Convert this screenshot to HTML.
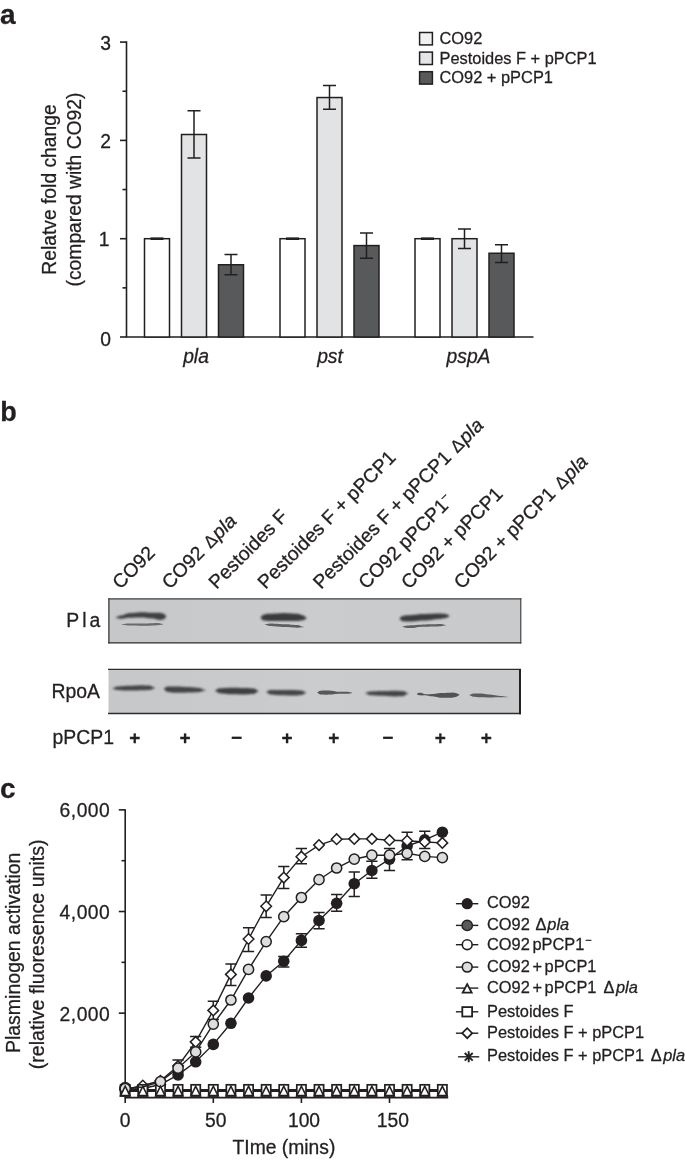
<!DOCTYPE html>
<html lang="en"><head><meta charset="utf-8"><title>Figure</title>
<style>html,body{margin:0;padding:0;background:#fff}svg{display:block}text{font-family:"Liberation Sans", sans-serif;fill:#231f20;stroke:#231f20;stroke-width:0.28px}</style></head><body>
<svg width="685" height="1160" viewBox="0 0 685 1160">
<defs><filter id="b1" x="-20%" y="-100%" width="140%" height="300%"><feGaussianBlur stdDeviation="0.9"/></filter><filter id="b2" x="-20%" y="-100%" width="140%" height="300%"><feGaussianBlur stdDeviation="0.6"/></filter><linearGradient id="bg1" x1="0" x2="1" y1="0" y2="0"><stop offset="0" stop-color="#c6c7c9"/><stop offset="0.5" stop-color="#cbccce"/><stop offset="1" stop-color="#c9cacc"/></linearGradient></defs>
<rect width="685" height="1160" fill="#fff"/>
<text x="0" y="24" font-size="28" font-weight="bold" stroke="none">a</text>
<text x="0.2" y="421" font-size="27" font-weight="bold" stroke="none">b</text>
<text x="0" y="798" font-size="28" font-weight="bold" stroke="none">c</text>
<g stroke="#231f20" stroke-width="1.6" fill="none">
<path d="M126.5 41.30V337.0M125.7 337.0H533.5"/>
<path d="M120 337.00H126.5"/>
<path d="M120 238.70H126.5"/>
<path d="M120 140.40H126.5"/>
<path d="M120 42.10H126.5"/>
<path d="M122.5 287.85H126.5"/>
<path d="M122.5 189.55H126.5"/>
<path d="M122.5 91.25H126.5"/>
</g>
<text x="111" y="345.50" font-size="19.3" text-anchor="end">0</text>
<text x="109.5" y="246.30" font-size="19.3" text-anchor="end">1</text>
<text x="111" y="147.60" font-size="19.3" text-anchor="end">2</text>
<text x="111" y="49.50" font-size="19.3" text-anchor="end">3</text>
<rect x="144.5" y="238.70" width="25" height="98.30" fill="#fff" stroke="#231f20" stroke-width="1.5"/>
<path d="M150.5 238.70H163.5" stroke="#231f20" stroke-width="2.6"/>
<rect x="181.5" y="134.50" width="25" height="202.50" fill="#e2e3e4" stroke="#231f20" stroke-width="1.5"/>
<path d="M194.0 110.8V158.0M187.5 110.8H200.5M187.5 158.0H200.5" stroke="#231f20" stroke-width="1.5" fill="none"/>
<rect x="218.5" y="264.75" width="25" height="72.25" fill="#58595b" stroke="#231f20" stroke-width="1.5"/>
<path d="M231.0 254.5V274.8M224.5 254.5H237.5M224.5 274.8H237.5" stroke="#231f20" stroke-width="1.5" fill="none"/>
<rect x="280.0" y="238.70" width="25" height="98.30" fill="#fff" stroke="#231f20" stroke-width="1.5"/>
<path d="M286.0 238.70H299.0" stroke="#231f20" stroke-width="2.6"/>
<rect x="317.0" y="97.54" width="25" height="239.46" fill="#e2e3e4" stroke="#231f20" stroke-width="1.5"/>
<path d="M329.5 85.4V109.2M323.0 85.4H336.0M323.0 109.2H336.0" stroke="#231f20" stroke-width="1.5" fill="none"/>
<rect x="354.0" y="245.58" width="25" height="91.42" fill="#58595b" stroke="#231f20" stroke-width="1.5"/>
<path d="M366.5 233.1V258.2M360.0 233.1H373.0M360.0 258.2H373.0" stroke="#231f20" stroke-width="1.5" fill="none"/>
<rect x="415.0" y="238.70" width="25" height="98.30" fill="#fff" stroke="#231f20" stroke-width="1.5"/>
<path d="M421.0 238.70H434.0" stroke="#231f20" stroke-width="2.6"/>
<rect x="452.0" y="238.70" width="25" height="98.30" fill="#e2e3e4" stroke="#231f20" stroke-width="1.5"/>
<path d="M464.5 229.0V248.6M458.0 229.0H471.0M458.0 248.6H471.0" stroke="#231f20" stroke-width="1.5" fill="none"/>
<rect x="489.0" y="253.25" width="25" height="83.75" fill="#58595b" stroke="#231f20" stroke-width="1.5"/>
<path d="M501.5 244.7V262.5M495.0 244.7H508.0M495.0 262.5H508.0" stroke="#231f20" stroke-width="1.5" fill="none"/>
<text x="196" y="362.5" font-size="19.3" font-style="italic" text-anchor="middle">pla</text>
<text x="330" y="362.5" font-size="19.3" font-style="italic" text-anchor="middle">pst</text>
<text x="468.5" y="362.5" font-size="19.3" font-style="italic" text-anchor="middle">pspA</text>
<text transform="translate(56 189.5) rotate(-90)" font-size="19.3" text-anchor="middle">Relatve fold change</text>
<text transform="translate(80.7 189.5) rotate(-90)" font-size="19.3" text-anchor="middle">(compared with CO92)</text>
<rect x="419.6" y="32.5" width="12.8" height="12.4" fill="#f1f1f2" stroke="#231f20" stroke-width="1.5"/>
<text x="439.5" y="44.1" font-size="16.4">CO92</text>
<rect x="419.6" y="52.1" width="12.8" height="12.4" fill="#e4e5e6" stroke="#231f20" stroke-width="1.5"/>
<text x="439.5" y="63.7" font-size="16.4">Pestoides F + pPCP1</text>
<rect x="419.6" y="71.7" width="12.8" height="12.4" fill="#58595b" stroke="#231f20" stroke-width="1.5"/>
<text x="439.5" y="83.3" font-size="16.4">CO92 + pPCP1</text>
<text transform="translate(120.3 590) rotate(-45)" font-size="19.4">CO92</text>
<text transform="translate(169.7 590) rotate(-45)" font-size="19.4">CO92 <tspan font-size="17.5" dx="1.5">Δ</tspan><tspan dx="1" font-style="italic">pla</tspan></text>
<text transform="translate(216.5 590) rotate(-45)" font-size="19.4">Pestoides F</text>
<text transform="translate(265.5 590) rotate(-45)" font-size="19.4">Pestoides F + pPCP1</text>
<text transform="translate(320.9 590) rotate(-45)" font-size="19.4">Pestoides F + pPCP1 <tspan font-size="17.5" dx="1.5">Δ</tspan><tspan dx="1" font-style="italic">pla</tspan></text>
<text transform="translate(366.2 590) rotate(-45)" font-size="19.4">CO92 pPCP1<tspan font-size="12" dy="-7">−</tspan></text>
<text transform="translate(409.1 590) rotate(-45)" font-size="19.4">CO92 + pPCP1</text>
<text transform="translate(461.8 590) rotate(-45)" font-size="19.4">CO92 + pPCP1 <tspan font-size="17.5" dx="1.5">Δ</tspan><tspan dx="1" font-style="italic">pla</tspan></text>
<rect x="108.5" y="599" width="412.5" height="44" fill="url(#bg1)"/>
<rect x="108.5" y="669.5" width="412" height="44.5" fill="url(#bg1)"/>
<path d="M108.9 598.3V643.4" stroke="#2e2e30" stroke-width="1.2"/>
<path d="M108.3 598.9H521.3" stroke="#3c3c3e" stroke-width="1.2"/>
<path d="M108.3 642.9H521.3" stroke="#2e2e30" stroke-width="1.4"/>
<path d="M520.8 598.3V643.5" stroke="#3a3a3c" stroke-width="1.1"/>
<path d="M108 669.4H521" stroke="#2e2e30" stroke-width="1.1"/>
<path d="M108 713.5H521" stroke="#2e2e30" stroke-width="1.4"/>
<path d="M520.0 668.9V714.2" stroke="#222" stroke-width="2.0"/>
<path d="M116.0 617.30L118.0 616.45L120.0 615.60L121.7 615.43L123.3 614.98L125.0 614.35L126.7 613.73L128.3 613.27L130.0 613.10L131.5 613.07L133.0 612.97L134.5 612.82L136.0 612.65L137.5 612.48L139.0 612.33L140.5 612.23L142.0 612.20L143.7 612.24L145.3 612.35L147.0 612.50L148.7 612.65L150.3 612.76L152.0 612.80L153.6 612.80L155.2 612.80L156.8 612.80L158.4 612.80L160.0 612.80L162.0 613.33L164.0 613.85L165.1 615.08L166.2 616.30L166.2 616.90L165.1 618.12L164.0 619.35L162.0 619.67L160.0 620.00L158.4 619.85L156.8 619.45L155.2 618.95L153.6 618.55L152.0 618.40L150.3 618.33L148.7 618.15L147.0 617.90L145.3 617.65L143.7 617.47L142.0 617.40L140.5 617.41L139.0 617.44L137.5 617.49L136.0 617.55L134.5 617.61L133.0 617.66L131.5 617.69L130.0 617.70L128.3 617.77L126.7 617.98L125.0 618.25L123.3 618.52L121.7 618.73L120.0 618.80L118.0 618.35L116.0 617.90Z" fill="#404042" filter="url(#b1)"/>
<path d="M121.5 624.40L123.1 624.25L124.8 623.90L126.4 623.55L128.0 623.40L129.5 623.40L131.1 623.40L132.6 623.41L134.2 623.41L135.7 623.42L137.3 623.43L138.8 623.44L140.4 623.44L141.9 623.45L143.5 623.45L145.0 623.45L146.6 623.43L148.2 623.39L149.9 623.33L151.5 623.25L153.1 623.17L154.8 623.11L156.4 623.07L158.0 623.05L159.7 623.29L161.3 623.76L163.0 624.00L163.0 624.40L161.3 624.64L159.7 625.11L158.0 625.35L156.4 625.37L154.8 625.41L153.1 625.47L151.5 625.55L149.9 625.63L148.2 625.69L146.6 625.73L145.0 625.75L143.5 625.74L141.9 625.72L140.4 625.69L138.8 625.65L137.3 625.60L135.7 625.55L134.2 625.50L132.6 625.46L131.1 625.43L129.5 625.41L128.0 625.40L126.4 625.31L124.8 625.10L123.1 624.89L121.5 624.80Z" fill="#6a6a6c" filter="url(#b2)"/>
<path d="M260.6 617.20L261.8 616.00L263.0 614.80L264.7 614.55L266.3 614.05L268.0 613.80L269.5 613.79L271.1 613.74L272.6 613.68L274.2 613.60L275.7 613.50L277.3 613.40L278.8 613.30L280.4 613.22L281.9 613.16L283.5 613.11L285.0 613.10L286.6 613.13L288.2 613.20L289.9 613.32L291.5 613.45L293.1 613.58L294.8 613.70L296.4 613.77L298.0 613.80L299.7 614.17L301.3 614.92L303.0 615.30L304.8 616.60L306.6 617.90L306.6 618.50L304.8 619.40L303.0 620.30L301.3 620.47L299.7 620.83L298.0 621.00L296.4 621.00L294.8 620.99L293.1 620.97L291.5 620.95L289.9 620.93L288.2 620.91L286.6 620.90L285.0 620.90L283.5 620.90L281.9 620.91L280.4 620.92L278.8 620.93L277.3 620.94L275.7 620.96L274.2 620.97L272.6 620.98L271.1 620.99L269.5 621.00L268.0 621.00L266.3 620.85L264.7 620.55L263.0 620.40L261.8 619.20L260.6 618.00Z" fill="#3a3a3c" filter="url(#b1)"/>
<path d="M264.8 624.20L266.5 624.02L268.3 623.67L270.0 623.50L271.5 623.52L273.0 623.57L274.5 623.64L276.0 623.74L277.5 623.85L279.0 623.96L280.5 624.06L282.0 624.13L283.5 624.18L285.0 624.20L286.6 624.23L288.2 624.33L289.9 624.48L291.5 624.65L293.1 624.82L294.8 624.97L296.4 625.07L298.0 625.10L299.9 625.52L301.7 626.38L303.6 626.80L303.6 627.20L301.7 627.33L299.9 627.57L298.0 627.70L296.4 627.67L294.8 627.60L293.1 627.48L291.5 627.35L289.9 627.22L288.2 627.10L286.6 627.03L285.0 627.00L283.5 626.98L282.0 626.91L280.5 626.81L279.0 626.69L277.5 626.55L276.0 626.41L274.5 626.29L273.0 626.19L271.5 626.12L270.0 626.10L268.3 625.72L266.5 624.98L264.8 624.60Z" fill="#5e5e60" filter="url(#b2)"/>
<path d="M399.6 618.20L400.8 617.10L402.0 616.00L403.5 615.88L405.0 615.60L406.5 615.32L408.0 615.20L409.5 615.17L411.1 615.10L412.6 614.98L414.2 614.82L415.7 614.64L417.3 614.46L418.8 614.28L420.4 614.12L421.9 614.00L423.5 613.93L425.0 613.90L426.5 613.89L428.0 613.85L429.5 613.80L431.0 613.73L432.5 613.65L434.0 613.57L435.5 613.50L437.0 613.45L438.5 613.41L440.0 613.40L441.5 613.47L443.0 613.65L444.5 613.83L446.0 613.90L447.8 614.80L449.5 615.70L449.5 616.30L447.8 617.20L446.0 618.10L444.5 618.23L443.0 618.55L441.5 618.87L440.0 619.00L438.5 619.04L437.0 619.14L435.5 619.31L434.0 619.52L432.5 619.75L431.0 619.98L429.5 620.19L428.0 620.36L426.5 620.46L425.0 620.50L423.5 620.52L421.9 620.59L420.4 620.69L418.8 620.82L417.3 620.97L415.7 621.13L414.2 621.28L412.6 621.41L411.1 621.51L409.5 621.58L408.0 621.60L406.5 621.54L405.0 621.40L403.5 621.26L402.0 621.20L400.8 620.10L399.6 619.00Z" fill="#3c3c3e" filter="url(#b1)"/>
<path d="M402.6 626.60L404.8 626.05L407.0 625.50L408.8 625.46L410.5 625.35L412.2 625.24L414.0 625.20L416.0 624.95L418.0 624.70L419.6 624.68L421.1 624.64L422.7 624.57L424.2 624.49L425.8 624.41L427.3 624.33L428.9 624.26L430.4 624.22L432.0 624.20L433.5 624.19L435.0 624.18L436.5 624.15L438.0 624.12L439.5 624.11L441.0 624.10L442.6 624.33L444.2 624.78L445.8 625.00L445.8 625.40L444.2 625.62L442.6 626.08L441.0 626.30L439.5 626.32L438.0 626.38L436.5 626.45L435.0 626.52L433.5 626.58L432.0 626.60L430.4 626.61L428.9 626.64L427.3 626.67L425.8 626.72L424.2 626.78L422.7 626.82L421.1 626.86L419.6 626.89L418.0 626.90L416.0 627.45L414.0 628.00L412.2 628.01L410.5 628.05L408.8 628.09L407.0 628.10L404.8 627.55L402.6 627.00Z" fill="#606062" filter="url(#b2)"/>
<path d="M112.5 688.15L114.0 687.74L115.5 686.91L117.0 686.50L118.6 686.47L120.1 686.37L121.7 686.23L123.3 686.07L124.9 685.93L126.4 685.83L128.0 685.80L129.6 685.78L131.1 685.74L132.7 685.68L134.2 685.59L135.8 685.51L137.3 685.42L138.9 685.36L140.4 685.32L142.0 685.30L143.6 685.33L145.2 685.40L146.8 685.50L148.4 685.57L150.0 685.60L151.7 686.14L153.3 687.21L155.0 687.75L155.0 688.25L153.3 688.69L151.7 689.56L150.0 690.00L148.4 690.03L146.8 690.10L145.2 690.20L143.6 690.27L142.0 690.30L140.4 690.31L138.9 690.34L137.3 690.38L135.8 690.42L134.2 690.48L132.7 690.52L131.1 690.56L129.6 690.59L128.0 690.60L126.4 690.58L124.9 690.51L123.3 690.41L121.7 690.29L120.1 690.19L118.6 690.12L117.0 690.10L115.5 689.74L114.0 689.01L112.5 688.65Z" fill="#454547" filter="url(#b1)"/>
<path d="M163.8 688.70L165.4 687.60L167.0 686.50L168.6 686.49L170.2 686.47L171.8 686.43L173.4 686.41L175.0 686.40L176.6 686.42L178.2 686.49L179.9 686.59L181.5 686.70L183.1 686.81L184.8 686.91L186.4 686.98L188.0 687.00L189.7 687.05L191.3 687.17L193.0 687.35L194.7 687.52L196.3 687.65L198.0 687.70L199.6 687.91L201.1 688.48L202.7 689.17L204.2 689.74L205.8 689.95L205.8 690.45L204.2 690.63L202.7 691.09L201.1 691.66L199.6 692.12L198.0 692.30L196.3 692.32L194.7 692.37L193.0 692.45L191.3 692.52L189.7 692.58L188.0 692.60L186.4 692.61L184.8 692.63L183.1 692.66L181.5 692.70L179.9 692.74L178.2 692.77L176.6 692.79L175.0 692.80L173.4 692.71L171.8 692.49L170.2 692.21L168.6 691.99L167.0 691.90L165.4 690.60L163.8 689.30Z" fill="#454547" filter="url(#b1)"/>
<path d="M215.2 690.30L217.1 689.30L219.0 688.30L220.6 688.28L222.1 688.21L223.7 688.11L225.3 687.99L226.9 687.89L228.4 687.82L230.0 687.80L231.5 687.80L233.0 687.81L234.5 687.82L236.0 687.83L237.5 687.85L239.0 687.87L240.5 687.88L242.0 687.89L243.5 687.90L245.0 687.90L246.5 687.94L248.0 688.05L249.5 688.20L251.0 688.35L252.5 688.46L254.0 688.50L255.5 689.05L257.0 690.15L258.5 690.70L258.5 691.30L257.0 691.95L255.5 693.25L254.0 693.90L252.5 693.94L251.0 694.05L249.5 694.20L248.0 694.35L246.5 694.46L245.0 694.50L243.5 694.49L242.0 694.47L240.5 694.44L239.0 694.40L237.5 694.35L236.0 694.30L234.5 694.26L233.0 694.23L231.5 694.21L230.0 694.20L228.4 694.16L226.9 694.03L225.3 693.85L223.7 693.65L222.1 693.47L220.6 693.34L219.0 693.30L217.1 692.10L215.2 690.90Z" fill="#404042" filter="url(#b1)"/>
<path d="M266.4 691.70L268.2 690.80L270.0 689.90L271.7 689.90L273.3 689.90L275.0 689.90L276.7 689.90L278.3 689.90L280.0 689.90L281.5 689.90L283.0 689.92L284.5 689.94L286.0 689.97L287.5 690.00L289.0 690.03L290.5 690.06L292.0 690.08L293.5 690.10L295.0 690.10L296.8 690.17L298.5 690.35L300.2 690.53L302.0 690.60L304.0 691.48L306.0 692.35L306.0 692.85L304.0 693.93L302.0 695.00L300.2 695.07L298.5 695.25L296.8 695.43L295.0 695.50L293.5 695.50L292.0 695.48L290.5 695.46L289.0 695.43L287.5 695.40L286.0 695.37L284.5 695.34L283.0 695.32L281.5 695.30L280.0 695.30L278.3 695.25L276.7 695.10L275.0 694.90L273.3 694.70L271.7 694.55L270.0 694.50L268.2 693.40L266.4 692.30Z" fill="#454547" filter="url(#b1)"/>
<path d="M317.3 692.35L318.6 691.58L320.0 690.80L321.5 690.74L323.0 690.60L324.5 690.46L326.0 690.40L327.5 690.46L329.0 690.60L330.5 690.74L332.0 690.80L333.5 690.95L335.0 691.30L336.5 691.65L338.0 691.80L339.7 691.80L341.3 691.80L343.0 691.80L344.7 691.80L346.3 691.80L348.0 691.80L350.0 692.20L352.0 692.60L352.0 693.00L350.0 693.40L348.0 693.80L346.3 693.80L344.7 693.80L343.0 693.80L341.3 693.80L339.7 693.80L338.0 693.80L336.5 693.89L335.0 694.10L333.5 694.31L332.0 694.40L330.5 694.46L329.0 694.60L327.5 694.74L326.0 694.80L324.5 694.74L323.0 694.60L321.5 694.46L320.0 694.40L318.6 693.62L317.3 692.85Z" fill="#58585a" filter="url(#b2)"/>
<path d="M365.4 692.95L366.9 692.56L368.5 691.79L370.0 691.40L371.7 691.38L373.3 691.32L375.0 691.25L376.7 691.17L378.3 691.12L380.0 691.10L381.5 691.09L383.0 691.07L384.5 691.04L386.0 691.00L387.5 690.95L389.0 690.90L390.5 690.86L392.0 690.83L393.5 690.81L395.0 690.80L396.6 690.82L398.2 690.87L399.8 690.93L401.4 690.98L403.0 691.00L404.7 691.54L406.5 692.61L408.2 693.15L408.2 693.65L406.5 694.29L404.7 695.56L403.0 696.20L401.4 696.22L399.8 696.27L398.2 696.33L396.6 696.38L395.0 696.40L393.5 696.38L392.0 696.33L390.5 696.26L389.0 696.16L387.5 696.05L386.0 695.94L384.5 695.84L383.0 695.77L381.5 695.72L380.0 695.70L378.3 695.67L376.7 695.58L375.0 695.45L373.3 695.32L371.7 695.23L370.0 695.20L368.5 694.76L366.9 693.89L365.4 693.45Z" fill="#454547" filter="url(#b1)"/>
<path d="M416.8 693.75L417.9 693.23L419.0 692.70L420.5 692.85L422.0 693.00L423.5 693.65L425.0 694.30L426.8 694.27L428.5 694.20L430.2 694.13L432.0 694.10L433.7 694.03L435.3 693.83L437.0 693.55L438.7 693.27L440.3 693.07L442.0 693.00L443.7 692.97L445.3 692.90L447.0 692.80L448.7 692.70L450.3 692.63L452.0 692.60L454.0 692.85L456.0 693.10L457.7 693.82L459.4 694.55L459.4 695.05L457.7 695.98L456.0 696.90L454.0 697.35L452.0 697.80L450.3 697.80L448.7 697.80L447.0 697.80L445.3 697.80L443.7 697.80L442.0 697.80L440.3 697.70L438.7 697.43L437.0 697.05L435.3 696.67L433.7 696.40L432.0 696.30L430.2 696.15L428.5 695.80L426.8 695.45L425.0 695.30L423.5 695.35L422.0 695.40L420.5 695.35L419.0 695.30L417.9 694.77L416.8 694.25Z" fill="#525254" filter="url(#b2)"/>
<path d="M469.6 694.75L471.3 694.18L473.0 693.60L474.8 693.59L476.5 693.55L478.2 693.51L480.0 693.50L481.7 693.57L483.3 693.77L485.0 694.05L486.7 694.33L488.3 694.53L490.0 694.60L491.7 694.69L493.3 694.92L495.0 695.25L496.7 695.58L498.3 695.81L500.0 695.90L501.5 695.99L503.0 696.23L504.6 696.52L506.1 696.76L507.6 696.85L507.6 697.15L506.1 697.16L504.6 697.20L503.0 697.25L501.5 697.29L500.0 697.30L498.3 697.31L496.7 697.33L495.0 697.35L493.3 697.38L491.7 697.39L490.0 697.40L488.3 697.39L486.7 697.38L485.0 697.35L483.3 697.32L481.7 697.31L480.0 697.30L478.2 697.23L476.5 697.05L474.8 696.87L473.0 696.80L471.3 696.02L469.6 695.25Z" fill="#5c5c5e" filter="url(#b2)"/>
<text x="66.3" y="627" font-size="19.4" textLength="33.9" lengthAdjust="spacing">Pla</text>
<text x="100" y="698.2" font-size="19.4" text-anchor="end">RpoA</text>
<text x="52.5" y="744.2" font-size="19.4">pPCP1</text>
<text x="134.9" y="743.6" font-size="19" font-weight="bold" text-anchor="middle" stroke="none">+</text>
<text x="185.0" y="743.6" font-size="19" font-weight="bold" text-anchor="middle" stroke="none">+</text>
<text x="236.5" y="743.6" font-size="19" font-weight="bold" text-anchor="middle" stroke="none">−</text>
<text x="287.0" y="743.6" font-size="19" font-weight="bold" text-anchor="middle" stroke="none">+</text>
<text x="333.8" y="743.6" font-size="19" font-weight="bold" text-anchor="middle" stroke="none">+</text>
<text x="387.7" y="743.6" font-size="19" font-weight="bold" text-anchor="middle" stroke="none">−</text>
<text x="440.2" y="743.6" font-size="19" font-weight="bold" text-anchor="middle" stroke="none">+</text>
<text x="486.2" y="743.6" font-size="19" font-weight="bold" text-anchor="middle" stroke="none">+</text>
<g stroke="#231f20" stroke-width="1.6" fill="none">
<path d="M125.2 809.20V1097.6M124.4 1097.6H448.2"/>
<path d="M118.8 1013.16H125.2"/>
<path d="M118.8 911.52H125.2"/>
<path d="M118.8 809.88H125.2"/>
<path d="M121.5 962.34H125.2"/>
<path d="M121.5 860.70H125.2"/>
<path d="M125.20 1097.6V1103"/>
<path d="M213.30 1097.6V1103"/>
<path d="M301.40 1097.6V1103"/>
<path d="M389.50 1097.6V1103"/>
</g>
<text x="59.6" y="1020.76" font-size="19.3" textLength="50.2" lengthAdjust="spacing">2,000</text>
<text x="59.6" y="919.12" font-size="19.3" textLength="50.2" lengthAdjust="spacing">4,000</text>
<text x="59.6" y="817.48" font-size="19.3" textLength="50.2" lengthAdjust="spacing">6,000</text>
<text x="125.20" y="1126.5" font-size="19.3" text-anchor="middle">0</text>
<text x="215.70" y="1126.5" font-size="19.3" text-anchor="middle">50</text>
<text x="304.00" y="1126.5" font-size="19.3" text-anchor="middle">100</text>
<text x="392.90" y="1126.5" font-size="19.3" text-anchor="middle">150</text>
<text x="284" y="1154.3" font-size="19.3" text-anchor="middle">TIme (mins)</text>
<text transform="translate(20.3 952.8) rotate(-90)" font-size="19.5" text-anchor="middle">Plasminogen activation</text>
<text transform="translate(43.6 954.3) rotate(-90)" font-size="19.6" text-anchor="middle">(relative fluoresence units)</text>
<path d="M125.20 1090.6000000000001H442.36" fill="none" stroke="#231f20" stroke-width="3"/>
<path d="M283.78 956.4V967M278.18 956.4H289.38M278.18 967H289.38M301.40 933.8V947.3M295.80 933.8H307.00M295.80 947.3H307.00M319.02 912.6V928.8M313.42 912.6H324.62M313.42 928.8H324.62M336.64 894.4V911.3M331.04 894.4H342.24M331.04 911.3H342.24M354.26 872V896.6M348.66 872H359.86M348.66 896.6H359.86M371.88 861.3V878.2M366.28 861.3H377.48M366.28 878.2H377.48M389.50 848.4V870.5M383.90 848.4H395.10M383.90 870.5H395.10M407.12 832.2V859.8M401.52 832.2H412.72M401.52 859.8H412.72M424.74 831.3V848.5M419.14 831.3H430.34M419.14 848.5H430.34" stroke="#231f20" stroke-width="1.5" fill="none"/>
<polyline points="125.20,1089.50 142.82,1088.50 160.44,1084.50 178.06,1074.90 195.68,1061.80 213.30,1044.40 230.92,1023.30 248.54,998.00 266.16,975.90 283.78,961.20 301.40,940.40 319.02,920.50 336.64,903.30 354.26,883.70 371.88,870.50 389.50,859.20 407.12,846.00 424.74,839.90 442.36,832.20" fill="none" stroke="#231f20" stroke-width="1.4"/>
<circle cx="125.20" cy="1089.5" r="5.8" fill="#231f20"/>
<circle cx="142.82" cy="1088.5" r="5.8" fill="#231f20"/>
<circle cx="160.44" cy="1084.5" r="5.8" fill="#231f20"/>
<circle cx="178.06" cy="1074.9" r="5.8" fill="#231f20"/>
<circle cx="195.68" cy="1061.8" r="5.8" fill="#231f20"/>
<circle cx="213.30" cy="1044.4" r="5.8" fill="#231f20"/>
<circle cx="230.92" cy="1023.3" r="5.8" fill="#231f20"/>
<circle cx="248.54" cy="998" r="5.8" fill="#231f20"/>
<circle cx="266.16" cy="975.9" r="5.8" fill="#231f20"/>
<circle cx="283.78" cy="961.2" r="5.8" fill="#231f20"/>
<circle cx="301.40" cy="940.4" r="5.8" fill="#231f20"/>
<circle cx="319.02" cy="920.5" r="5.8" fill="#231f20"/>
<circle cx="336.64" cy="903.3" r="5.8" fill="#231f20"/>
<circle cx="354.26" cy="883.7" r="5.8" fill="#231f20"/>
<circle cx="371.88" cy="870.5" r="5.8" fill="#231f20"/>
<circle cx="389.50" cy="859.2" r="5.8" fill="#231f20"/>
<circle cx="407.12" cy="846" r="5.8" fill="#231f20"/>
<circle cx="424.74" cy="839.9" r="5.8" fill="#231f20"/>
<circle cx="442.36" cy="832.2" r="5.8" fill="#231f20"/>
<path d="M178.06 1060V1072M172.46 1060H183.66M172.46 1072H183.66M195.68 1036.5V1047.3M190.08 1036.5H201.28M190.08 1047.3H201.28M213.30 1001.2V1019.6M207.70 1001.2H218.90M207.70 1019.6H218.90M230.92 964V985.6M225.32 964H236.52M225.32 985.6H236.52M248.54 927.8V951.4M242.94 927.8H254.14M242.94 951.4H254.14M266.16 895V917.4M260.56 895H271.76M260.56 917.4H271.76M283.78 866.5V888.6M278.18 866.5H289.38M278.18 888.6H289.38M301.40 848.4V863.8M295.80 848.4H307.00M295.80 863.8H307.00" stroke="#231f20" stroke-width="1.5" fill="none"/>
<polyline points="125.20,1089.50 142.82,1085.50 160.44,1080.80 178.06,1066.00 195.68,1041.90 213.30,1010.40 230.92,974.40 248.54,939.00 266.16,906.30 283.78,877.60 301.40,856.70 319.02,845.10 336.64,839.20 354.26,838.90 371.88,838.90 389.50,840.20 407.12,840.80 424.74,842.00 442.36,842.90" fill="none" stroke="#231f20" stroke-width="1.4"/>
<path d="M119.90 1089.5L125.20 1084.2L130.50 1089.5L125.20 1094.8Z" fill="#fff" stroke="#231f20" stroke-width="1.5"/>
<path d="M137.52 1085.5L142.82 1080.2L148.12 1085.5L142.82 1090.8Z" fill="#fff" stroke="#231f20" stroke-width="1.5"/>
<path d="M155.14 1080.8L160.44 1075.5L165.74 1080.8L160.44 1086.1Z" fill="#fff" stroke="#231f20" stroke-width="1.5"/>
<path d="M172.76 1066L178.06 1060.7L183.36 1066L178.06 1071.3Z" fill="#fff" stroke="#231f20" stroke-width="1.5"/>
<path d="M190.38 1041.9L195.68 1036.6000000000001L200.98 1041.9L195.68 1047.2Z" fill="#fff" stroke="#231f20" stroke-width="1.5"/>
<path d="M208.00 1010.4L213.30 1005.1L218.60 1010.4L213.30 1015.6999999999999Z" fill="#fff" stroke="#231f20" stroke-width="1.5"/>
<path d="M225.62 974.4L230.92 969.1L236.22 974.4L230.92 979.6999999999999Z" fill="#fff" stroke="#231f20" stroke-width="1.5"/>
<path d="M243.24 939L248.54 933.7L253.84 939L248.54 944.3Z" fill="#fff" stroke="#231f20" stroke-width="1.5"/>
<path d="M260.86 906.3L266.16 901.0L271.46 906.3L266.16 911.5999999999999Z" fill="#fff" stroke="#231f20" stroke-width="1.5"/>
<path d="M278.48 877.6L283.78 872.3000000000001L289.08 877.6L283.78 882.9Z" fill="#fff" stroke="#231f20" stroke-width="1.5"/>
<path d="M296.10 856.7L301.40 851.4000000000001L306.70 856.7L301.40 862.0Z" fill="#fff" stroke="#231f20" stroke-width="1.5"/>
<path d="M313.72 845.1L319.02 839.8000000000001L324.32 845.1L319.02 850.4Z" fill="#fff" stroke="#231f20" stroke-width="1.5"/>
<path d="M331.34 839.2L336.64 833.9000000000001L341.94 839.2L336.64 844.5Z" fill="#fff" stroke="#231f20" stroke-width="1.5"/>
<path d="M348.96 838.9L354.26 833.6L359.56 838.9L354.26 844.1999999999999Z" fill="#fff" stroke="#231f20" stroke-width="1.5"/>
<path d="M366.58 838.9L371.88 833.6L377.18 838.9L371.88 844.1999999999999Z" fill="#fff" stroke="#231f20" stroke-width="1.5"/>
<path d="M384.20 840.2L389.50 834.9000000000001L394.80 840.2L389.50 845.5Z" fill="#fff" stroke="#231f20" stroke-width="1.5"/>
<path d="M401.82 840.8L407.12 835.5L412.42 840.8L407.12 846.0999999999999Z" fill="#fff" stroke="#231f20" stroke-width="1.5"/>
<path d="M419.44 842L424.74 836.7L430.04 842L424.74 847.3Z" fill="#fff" stroke="#231f20" stroke-width="1.5"/>
<path d="M437.06 842.9L442.36 837.6L447.66 842.9L442.36 848.1999999999999Z" fill="#fff" stroke="#231f20" stroke-width="1.5"/>
<rect x="120.60" y="1084.80" width="9.2" height="11.2" fill="#fff" stroke="#231f20" stroke-width="1.7"/>
<rect x="138.22" y="1084.80" width="9.2" height="11.2" fill="#fff" stroke="#231f20" stroke-width="1.7"/>
<rect x="155.84" y="1084.80" width="9.2" height="11.2" fill="#fff" stroke="#231f20" stroke-width="1.7"/>
<rect x="173.46" y="1084.80" width="9.2" height="11.2" fill="#fff" stroke="#231f20" stroke-width="1.7"/>
<rect x="191.08" y="1084.80" width="9.2" height="11.2" fill="#fff" stroke="#231f20" stroke-width="1.7"/>
<rect x="208.70" y="1084.80" width="9.2" height="11.2" fill="#fff" stroke="#231f20" stroke-width="1.7"/>
<rect x="226.32" y="1084.80" width="9.2" height="11.2" fill="#fff" stroke="#231f20" stroke-width="1.7"/>
<rect x="243.94" y="1084.80" width="9.2" height="11.2" fill="#fff" stroke="#231f20" stroke-width="1.7"/>
<rect x="261.56" y="1084.80" width="9.2" height="11.2" fill="#fff" stroke="#231f20" stroke-width="1.7"/>
<rect x="279.18" y="1084.80" width="9.2" height="11.2" fill="#fff" stroke="#231f20" stroke-width="1.7"/>
<rect x="296.80" y="1084.80" width="9.2" height="11.2" fill="#fff" stroke="#231f20" stroke-width="1.7"/>
<rect x="314.42" y="1084.80" width="9.2" height="11.2" fill="#fff" stroke="#231f20" stroke-width="1.7"/>
<rect x="332.04" y="1084.80" width="9.2" height="11.2" fill="#fff" stroke="#231f20" stroke-width="1.7"/>
<rect x="349.66" y="1084.80" width="9.2" height="11.2" fill="#fff" stroke="#231f20" stroke-width="1.7"/>
<rect x="367.28" y="1084.80" width="9.2" height="11.2" fill="#fff" stroke="#231f20" stroke-width="1.7"/>
<rect x="384.90" y="1084.80" width="9.2" height="11.2" fill="#fff" stroke="#231f20" stroke-width="1.7"/>
<rect x="402.52" y="1084.80" width="9.2" height="11.2" fill="#fff" stroke="#231f20" stroke-width="1.7"/>
<rect x="420.14" y="1084.80" width="9.2" height="11.2" fill="#fff" stroke="#231f20" stroke-width="1.7"/>
<rect x="437.76" y="1084.80" width="9.2" height="11.2" fill="#fff" stroke="#231f20" stroke-width="1.7"/>
<circle cx="125.20" cy="1087.6" r="5.2" fill="#fff" stroke="#231f20" stroke-width="1.5"/>
<polyline points="125.20,1088.50 142.82,1087.00 160.44,1081.60 178.06,1068.20 195.68,1051.90 213.30,1024.10 230.92,1000.00 248.54,969.40 266.16,941.60 283.78,916.70 301.40,897.50 319.02,879.70 336.64,868.00 354.26,859.20 371.88,855.20 389.50,855.20 407.12,853.30 424.74,856.40 442.36,857.60" fill="none" stroke="#231f20" stroke-width="1.4"/>
<circle cx="125.20" cy="1088.5" r="5.1" fill="#dcddde" stroke="#231f20" stroke-width="1.5"/>
<circle cx="160.44" cy="1081.6" r="5.1" fill="#dcddde" stroke="#231f20" stroke-width="1.5"/>
<circle cx="178.06" cy="1068.2" r="5.1" fill="#dcddde" stroke="#231f20" stroke-width="1.5"/>
<circle cx="195.68" cy="1051.9" r="5.1" fill="#dcddde" stroke="#231f20" stroke-width="1.5"/>
<circle cx="213.30" cy="1024.1" r="5.1" fill="#dcddde" stroke="#231f20" stroke-width="1.5"/>
<circle cx="230.92" cy="1000" r="5.1" fill="#dcddde" stroke="#231f20" stroke-width="1.5"/>
<circle cx="248.54" cy="969.4" r="5.1" fill="#dcddde" stroke="#231f20" stroke-width="1.5"/>
<circle cx="266.16" cy="941.6" r="5.1" fill="#dcddde" stroke="#231f20" stroke-width="1.5"/>
<circle cx="283.78" cy="916.7" r="5.1" fill="#dcddde" stroke="#231f20" stroke-width="1.5"/>
<circle cx="301.40" cy="897.5" r="5.1" fill="#dcddde" stroke="#231f20" stroke-width="1.5"/>
<circle cx="319.02" cy="879.7" r="5.1" fill="#dcddde" stroke="#231f20" stroke-width="1.5"/>
<circle cx="336.64" cy="868" r="5.1" fill="#dcddde" stroke="#231f20" stroke-width="1.5"/>
<circle cx="354.26" cy="859.2" r="5.1" fill="#dcddde" stroke="#231f20" stroke-width="1.5"/>
<circle cx="371.88" cy="855.2" r="5.1" fill="#dcddde" stroke="#231f20" stroke-width="1.5"/>
<circle cx="389.50" cy="855.2" r="5.1" fill="#dcddde" stroke="#231f20" stroke-width="1.5"/>
<circle cx="407.12" cy="853.3" r="5.1" fill="#dcddde" stroke="#231f20" stroke-width="1.5"/>
<circle cx="424.74" cy="856.4" r="5.1" fill="#dcddde" stroke="#231f20" stroke-width="1.5"/>
<circle cx="442.36" cy="857.6" r="5.1" fill="#dcddde" stroke="#231f20" stroke-width="1.5"/>
<path d="M125.20 1084.40L131.20 1096.60H119.20Z" fill="#231f20"/>
<path d="M125.20 1088.00L128.50 1094.70H121.90Z" fill="#fff"/>
<path d="M142.82 1084.40L148.82 1096.60H136.82Z" fill="#231f20"/>
<path d="M142.82 1088.00L146.12 1094.70H139.52Z" fill="#fff"/>
<path d="M160.44 1084.40L166.44 1096.60H154.44Z" fill="#231f20"/>
<path d="M160.44 1088.00L163.74 1094.70H157.14Z" fill="#fff"/>
<path d="M178.06 1084.40L184.06 1096.60H172.06Z" fill="#231f20"/>
<path d="M178.06 1088.00L181.36 1094.70H174.76Z" fill="#fff"/>
<path d="M195.68 1084.40L201.68 1096.60H189.68Z" fill="#231f20"/>
<path d="M195.68 1088.00L198.98 1094.70H192.38Z" fill="#fff"/>
<path d="M213.30 1084.40L219.30 1096.60H207.30Z" fill="#231f20"/>
<path d="M213.30 1088.00L216.60 1094.70H210.00Z" fill="#fff"/>
<path d="M230.92 1084.40L236.92 1096.60H224.92Z" fill="#231f20"/>
<path d="M230.92 1088.00L234.22 1094.70H227.62Z" fill="#fff"/>
<path d="M248.54 1084.40L254.54 1096.60H242.54Z" fill="#231f20"/>
<path d="M248.54 1088.00L251.84 1094.70H245.24Z" fill="#fff"/>
<path d="M266.16 1084.40L272.16 1096.60H260.16Z" fill="#231f20"/>
<path d="M266.16 1088.00L269.46 1094.70H262.86Z" fill="#fff"/>
<path d="M283.78 1084.40L289.78 1096.60H277.78Z" fill="#231f20"/>
<path d="M283.78 1088.00L287.08 1094.70H280.48Z" fill="#fff"/>
<path d="M301.40 1084.40L307.40 1096.60H295.40Z" fill="#231f20"/>
<path d="M301.40 1088.00L304.70 1094.70H298.10Z" fill="#fff"/>
<path d="M319.02 1084.40L325.02 1096.60H313.02Z" fill="#231f20"/>
<path d="M319.02 1088.00L322.32 1094.70H315.72Z" fill="#fff"/>
<path d="M336.64 1084.40L342.64 1096.60H330.64Z" fill="#231f20"/>
<path d="M336.64 1088.00L339.94 1094.70H333.34Z" fill="#fff"/>
<path d="M354.26 1084.40L360.26 1096.60H348.26Z" fill="#231f20"/>
<path d="M354.26 1088.00L357.56 1094.70H350.96Z" fill="#fff"/>
<path d="M371.88 1084.40L377.88 1096.60H365.88Z" fill="#231f20"/>
<path d="M371.88 1088.00L375.18 1094.70H368.58Z" fill="#fff"/>
<path d="M389.50 1084.40L395.50 1096.60H383.50Z" fill="#231f20"/>
<path d="M389.50 1088.00L392.80 1094.70H386.20Z" fill="#fff"/>
<path d="M407.12 1084.40L413.12 1096.60H401.12Z" fill="#231f20"/>
<path d="M407.12 1088.00L410.42 1094.70H403.82Z" fill="#fff"/>
<path d="M424.74 1084.40L430.74 1096.60H418.74Z" fill="#231f20"/>
<path d="M424.74 1088.00L428.04 1094.70H421.44Z" fill="#fff"/>
<path d="M442.36 1084.40L448.36 1096.60H436.36Z" fill="#231f20"/>
<path d="M442.36 1088.00L445.66 1094.70H439.06Z" fill="#fff"/>
<path d="M455.9 903.7H478.3" stroke="#231f20" stroke-width="1.4"/>
<circle cx="467.2" cy="903.7" r="5.6" fill="#231f20"/>
<text x="487" y="908.4" font-size="16.4">CO92</text>
<path d="M455.9 925.4H478.3" stroke="#231f20" stroke-width="1.4"/>
<circle cx="467.2" cy="925.4" r="5.2" fill="#58595b" stroke="#231f20" stroke-width="1.4"/>
<text x="487" y="929.8" font-size="16.4">CO92 <tspan dx="1">Δ</tspan><tspan dx="1" font-style="italic">pla</tspan></text>
<path d="M455.9 944.7H478.3" stroke="#231f20" stroke-width="1.4"/>
<circle cx="467.2" cy="944.7" r="4.9" fill="#fff" stroke="#231f20" stroke-width="1.6"/>
<text x="487" y="949.9" font-size="16.4">CO92<tspan dx="-2"> pPCP1</tspan><tspan font-size="11" dx="1" dy="-6">−</tspan></text>
<path d="M455.9 967.1H478.3" stroke="#231f20" stroke-width="1.4"/>
<circle cx="467.2" cy="967.1" r="4.9" fill="#dcddde" stroke="#231f20" stroke-width="1.6"/>
<text x="487" y="971.8" font-size="16.4">CO92<tspan dx="-2"> +</tspan><tspan dx="-2"> pPCP1</tspan></text>
<path d="M455.9 988.1H478.3" stroke="#231f20" stroke-width="1.4"/>
<path d="M467.2 984.10L471.7 992.60H462.7Z" fill="#fff" stroke="#231f20" stroke-width="1.8"/>
<text x="487" y="992.5" font-size="16.4">CO92<tspan dx="-2"> +</tspan><tspan dx="-2"> pPCP1 </tspan><tspan dx="2.5">Δ</tspan><tspan dx="1.5" font-style="italic">pla</tspan></text>
<path d="M455.9 1011.8H478.3" stroke="#231f20" stroke-width="1.4"/>
<rect x="462.3" y="1007.10" width="9.8" height="9.4" fill="#fff" stroke="#231f20" stroke-width="1.8"/>
<text x="487" y="1016.5" font-size="16.4">Pestoides F</text>
<path d="M455.9 1033.2H478.3" stroke="#231f20" stroke-width="1.4"/>
<path d="M462.2 1033.2L467.2 1028.20L472.2 1033.2L467.2 1038.20Z" fill="#fff" stroke="#231f20" stroke-width="1.7"/>
<text x="487" y="1038.0" font-size="16.4">Pestoides F + pPCP1</text>
<path d="M458.1 1056.8H479.2" stroke="#231f20" stroke-width="1.4"/>
<path d="M468.7 1051.30V1062.30M464.7 1053.0L472.7 1060.6M464.7 1060.6L472.7 1053.0" stroke="#231f20" stroke-width="1.9"/>
<text x="487" y="1061.2" font-size="16.4">Pestoides F + pPCP1 <tspan dx="2">Δ</tspan><tspan dx="1.5" font-style="italic">pla</tspan></text>
</svg></body></html>
